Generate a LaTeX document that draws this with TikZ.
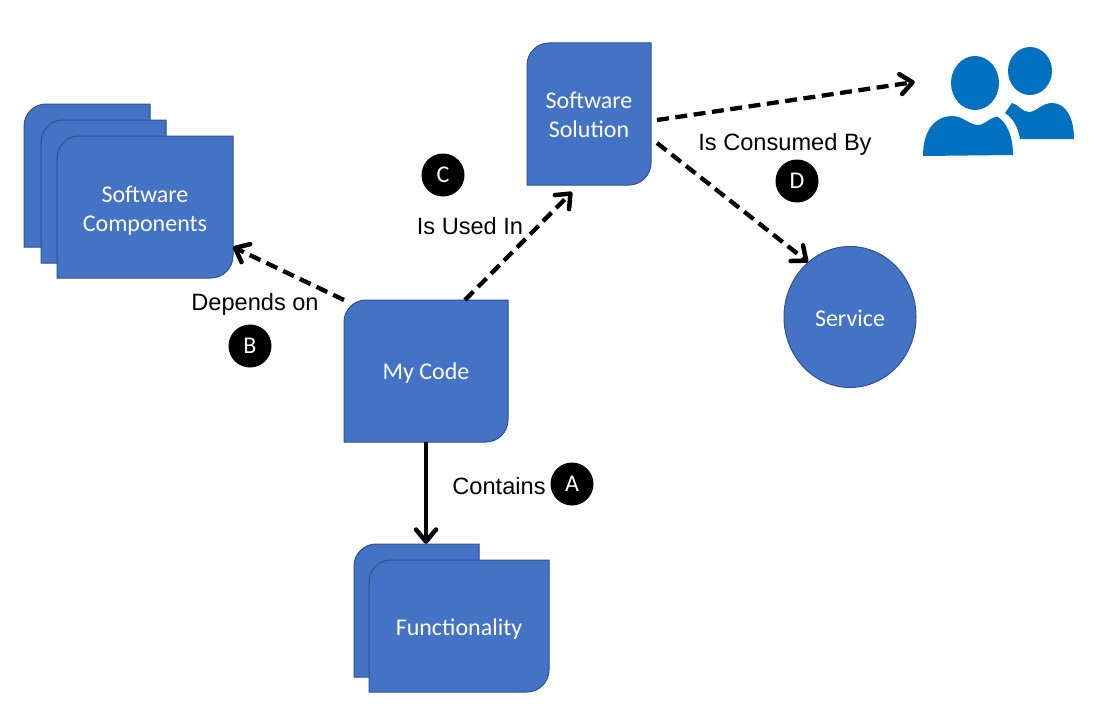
\documentclass[tikz,border=0pt]{standalone}
\usepackage{fontspec}
\setmainfont{Liberation Sans}
\newfontfamily\cardfont{Carlito}
\usetikzlibrary{arrows.meta,calc,shapes.geometric}
\definecolor{cardfill}{HTML}{4472C4}
\definecolor{cardline}{HTML}{2F528F}
\definecolor{people}{HTML}{0070C0}
\newcommand{\cardshape}[4]{% x0 y0 x1 y1
  \path[cardstyle] (#1+22,#2) -- (#3,#2) -- (#3,#4-22)
    .. controls (#3,#4-10) and (#3-10,#4) .. (#3-22,#4) -- (#1,#4) -- (#1,#2+22)
    .. controls (#1,#2+10) and (#1+10,#2) .. (#1+22,#2) -- cycle;}
\newcommand{\lowered}[2]{\raisebox{-#1}[\height][\depth]{#2}}
\begin{document}
\begin{tikzpicture}[x=1pt,y=-1pt,
  cardstyle/.style={fill=cardfill,draw=cardline,line width=1pt},
  anchorbox/.style={inner sep=0pt,outer sep=0pt,text=white,align=center,font=\cardfont\fontsize{24}{29}\selectfont},
  lab/.style={inner sep=0pt,font=\fontsize{23.6}{28}\selectfont,text=black},
  badge/.style={circle,fill=black,text=white,inner sep=0pt,minimum size=43pt,font=\cardfont\fontsize{24}{28}\selectfont},
  conn/.style={line width=4.8pt,-{Straight Barb[round,length=12pt,width=20pt,line width=4.5pt]}},
  dconn/.style={conn,line width=4.3pt,dash pattern=on 12pt off 6.5pt}]
\useasboundingbox (0,0) rectangle (1119,709);
% stacks
\cardshape{24}{104}{150}{247}
\cardshape{41}{120}{166}{263}
\cardshape{57}{136}{233}{278}
\node[anchorbox,minimum width=176pt,minimum height=142pt] (sc) at (145,207) {\lowered{3.5pt}{Software}\\\lowered{3.5pt}{Components}};
\cardshape{354}{544}{479}{677}
\cardshape{369}{560}{549}{692}
\node[anchorbox,minimum width=180pt,minimum height=132pt] (func) at (459,626) {\lowered{3pt}{Functionality}};
\node[inner sep=0pt,minimum width=125pt,minimum height=133pt] (funcback) at (416.5,610.5) {};
\cardshape{344}{300}{508}{442}
\node[anchorbox,minimum width=164pt,minimum height=142pt] (code) at (426,371) {\lowered{2.5pt}{My Code}};
\cardshape{527}{43}{651}{185}
\node[anchorbox,minimum width=124pt,minimum height=142pt] (sol) at (589,114) {\lowered{1pt}{Software}\\\lowered{1pt}{Solution}};
\node[anchorbox,ellipse,fill=cardfill,draw=cardline,line width=1pt,minimum width=132pt,minimum height=141pt] (svc) at (850,317) {\lowered{1pt}{Service}};
% people
\path[fill=people] (1030,71) ellipse [x radius=22,y radius=24];
\path[fill=people] (975,83) ellipse [x radius=24,y radius=27];
\path[fill=people] (923,156) .. controls (923,130) and (935,116) .. (953,116)
  .. controls (962,116) and (970,125) .. (978,125)
  .. controls (985,125) and (991,116) .. (998,117)
  .. controls (1006,122) and (1013,135) .. (1013,155) -- cycle;
\path[fill=people] (1005,113) -- (1012,103) .. controls (1018,104) and (1022,112) .. (1029,112)
  .. controls (1036,112) and (1042,103) .. (1052,103)
  .. controls (1066,103) and (1074,118) .. (1074,139) -- (1020,139)
  .. controls (1018,127) and (1013,118) .. (1005,113) -- cycle;
% text
\node[lab] (cont) at (499,486) {Contains};
\node[badge] (a) at (572,484) {A};
\node[lab] (dep) at (255,304) {Depends on};
\node[badge] (b) at (250,346) {B};
\node[badge] (c) at (443,175) {C};
\node[lab] (used) at (470,226) {Is Used In};
\node[lab] (cons) at (785,144) {Is Consumed By};
\node[badge] (d) at (797,181) {D};
\node[inner sep=0pt,minimum width=152pt,minimum height=100pt] (ppl) at (998,106) {};
% connectors
\draw[conn] (code.south) -- ([xshift=9.5pt]funcback.north);
\draw[dconn] (code.north west) -- ([yshift=-40pt]sc.east);
\draw[dconn] ([xshift=39pt]code.north) -- ([xshift=-17pt,yshift=-7pt]sol.south);
\draw[dconn] ([xshift=6pt,yshift=-6pt]sol.east) -- ([xshift=-7pt,yshift=24pt]ppl.west);
\draw[dconn] ([xshift=6pt,yshift=-29pt]sol.east) -- ([xshift=-42pt,yshift=55pt]svc.center);
\end{tikzpicture}
\end{document}
